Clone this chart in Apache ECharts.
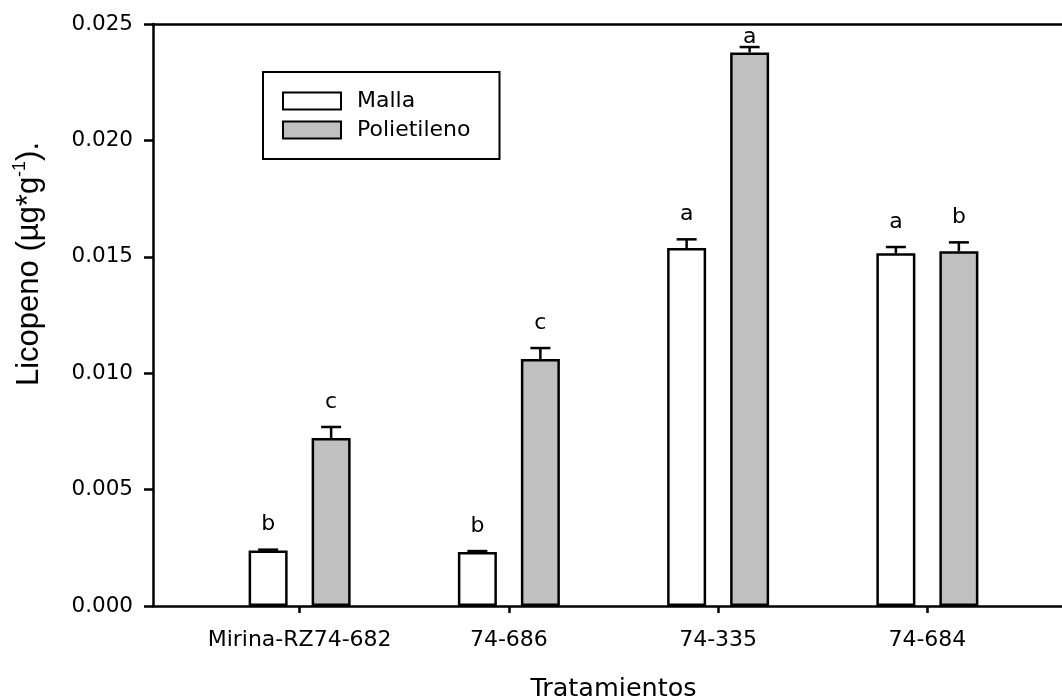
<!DOCTYPE html>
<html><head><meta charset="utf-8">
<script src="https://cdn.jsdelivr.net/npm/echarts@6/dist/echarts.min.js"></script>
<style>html,body{margin:0;padding:0;background:#fff}#c{width:1062px;height:698px}</style>
</head><body><div id="c"></div>
<script>
// ---- data ----
const categories = ['Mirina-RZ74-682', '74-686', '74-335', '74-684'];
const seriesNames = ['Malla', 'Polietileno'];
const mallaValues = [0.00238, 0.00232, 0.01538, 0.01515];
const mallaErrors = [0.00004, 0.00004, 0.00037, 0.00027];
const mallaLetters = ['b', 'b', 'a', 'a'];
const poliValues = [0.00722, 0.01061, 0.02378, 0.01524];
const poliErrors = [0.00047, 0.00047, 0.00023, 0.00038];
const poliLetters = ['c', 'c', 'a', 'b'];
const yTickLabels = ['0.000', '0.005', '0.010', '0.015', '0.020', '0.025'];
const yTitle = ['Licopeno (µg*g', '-1', ').'];
const xTitle = 'Tratamientos';

// ---- style ----
const FONT = 'DejaVu Sans';
const BAR_W = 39, BAR_STEP = 63, BAR_GAP = BAR_STEP / BAR_W - 1;
const LINE = 2.5;

function errorRender(pos, letters) {
  return function (params, api) {
    const i = api.value(0), m = api.value(1), e = api.value(2);
    const top = api.coord([i, m]);
    const cap = api.coord([i, m + e]);
    const x = top[0] + pos * BAR_STEP / 2;
    const plotTop = params.coordSys.y;
    const by = Math.max(cap[1] - 14, plotTop + 24);
    return {
      type: 'group',
      children: [
        { type: 'line', shape: { x1: x, y1: top[1], x2: x, y2: cap[1] }, style: { stroke: '#000', lineWidth: LINE } },
        { type: 'line', shape: { x1: x - 10, y1: cap[1], x2: x + 10, y2: cap[1] }, style: { stroke: '#000', lineWidth: LINE } },
        { type: 'text', style: { text: letters[params.dataIndex], x: x, y: by, fill: '#000', fontSize: 22, fontFamily: FONT, align: 'center', verticalAlign: 'bottom' } }
      ]
    };
  };
}

const chart = echarts.init(document.getElementById('c'));
chart.setOption({
  animation: false,
  backgroundColor: '#fff',
  grid: [
    { left: 153, right: 0, top: 24, bottom: 92, outerBoundsMode: 'none', containLabel: false },
    { left: 195, right: 30, top: 24, bottom: 92, outerBoundsMode: 'none', containLabel: false }
  ],
  legend: {
    orient: 'vertical', left: 263, top: 72,
    data: seriesNames,
    icon: 'rect', itemWidth: 58, itemHeight: 17, itemGap: 7,
    borderColor: '#000', borderWidth: 2, padding: [18, 29, 18, 19],
    itemStyle: { borderColor: '#000', borderWidth: 2 },
    textStyle: { fontSize: 22, fontFamily: FONT, color: '#000', padding: [0, 0, 0, 11] }
  },
  xAxis: [
    { gridIndex: 0, type: 'value', position: 'bottom', min: 0, max: 1,
      axisLine: { show: true, lineStyle: { color: '#000', width: LINE } },
      axisTick: { show: false }, axisLabel: { show: false }, splitLine: { show: false } },
    { gridIndex: 0, type: 'value', position: 'top', min: 0, max: 1,
      axisLine: { show: true, lineStyle: { color: '#000', width: LINE } },
      axisTick: { show: false }, axisLabel: { show: false }, splitLine: { show: false } },
    { gridIndex: 1, type: 'category', data: categories,
      axisLine: { show: false },
      axisTick: { show: true, alignWithLabel: true, length: 7, lineStyle: { color: '#000', width: LINE } },
      axisLabel: { fontSize: 22, fontFamily: FONT, color: '#000', margin: 23, interval: 0 },
      name: xTitle, nameLocation: 'middle', nameGap: 70,
      nameTextStyle: { fontSize: 25.5, fontFamily: FONT, color: '#000' } }
  ],
  yAxis: [
    { gridIndex: 0, type: 'value', min: 0, max: 0.025, interval: 0.005,
      axisLine: { show: true, lineStyle: { color: '#000', width: LINE } },
      axisTick: { show: true, length: 9, lineStyle: { color: '#000', width: LINE } },
      axisLabel: { fontSize: 21.5, fontFamily: FONT, color: '#000', margin: 20,
        formatter: (v) => yTickLabels[Math.round(v / 0.005)] },
      splitLine: { show: false },
      name: '{t|' + yTitle[0] + '}{s|' + yTitle[1] + '}{t|' + yTitle[2] + '}',
      nameLocation: 'middle', nameRotate: 90, nameGap: 106,
      nameTextStyle: {
        color: '#000', padding: [0, 0, 0, 102],
        rich: {
          t: { fontSize: 31, fontFamily: 'Liberation Sans', color: '#000', lineHeight: 36 },
          s: { fontSize: 18, fontFamily: 'Liberation Sans', color: '#000', lineHeight: 36, padding: [0, 0, 17, 0] }
        }
      } },
    { gridIndex: 1, type: 'value', min: 0, max: 0.025, show: false }
  ],
  series: [
    { name: seriesNames[0], type: 'bar', xAxisIndex: 2, yAxisIndex: 1, data: mallaValues,
      barWidth: BAR_W, barGap: (BAR_GAP * 100) + '%',
      itemStyle: { color: '#ffffff', borderColor: '#000', borderWidth: LINE } },
    { name: seriesNames[1], type: 'bar', xAxisIndex: 2, yAxisIndex: 1, data: poliValues,
      barWidth: BAR_W, barGap: (BAR_GAP * 100) + '%',
      itemStyle: { color: '#c0c0c0', borderColor: '#000', borderWidth: LINE } },
    { type: 'custom', xAxisIndex: 2, yAxisIndex: 1, z: 5,
      data: mallaValues.map((v, i) => [i, v, mallaErrors[i]]),
      renderItem: errorRender(-1, mallaLetters) },
    { type: 'custom', xAxisIndex: 2, yAxisIndex: 1, z: 5,
      data: poliValues.map((v, i) => [i, v, poliErrors[i]]),
      renderItem: errorRender(1, poliLetters) }
  ]
});
</script></body></html>
